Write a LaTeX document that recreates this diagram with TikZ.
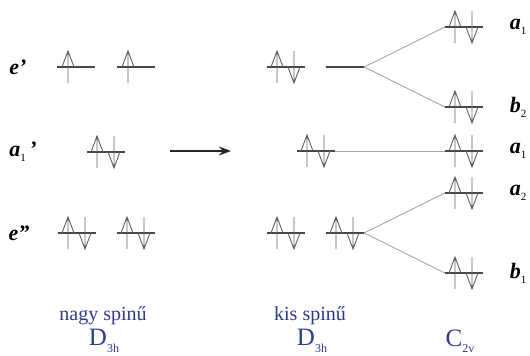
\documentclass[tikz,border=0pt]{standalone}
\usepackage{fontspec}
\setmainfont{Liberation Serif}
\usetikzlibrary{arrows.meta}
\definecolor{labblue}{RGB}{48,58,135}
% small lowered index for symmetry labels
\newcommand\lsub[1]{\raisebox{-0.5ex}{\fontsize{11}{11}\selectfont\upshape\mdseries #1}}
% small lowered index for point groups
\newcommand\gsub[1]{\raisebox{-0.55ex}{\fontsize{12}{12}\selectfont #1}}
% an orbital level: a named node with its horizontal line
\newcommand\lev[3]{\node[lvl] (#1) at (#2,#3) {};\draw[levline] (#1.west) -- (#1.east);}
% a filled level: spin-up and spin-down electron
\newcommand\pairon[1]{\pic at (#1) {upel=-9};\pic at (#1) {dnel=8};}
\begin{document}
\begin{tikzpicture}[x=1pt,y=-1pt,
  lvl/.style={inner sep=0pt, minimum width=38pt, minimum height=0pt},
  levline/.style={draw=black!72, line width=1.1pt},
  elec/.style={draw=black!62, line width=0.9pt},
  conn/.style={draw=black!35, line width=0.9pt},
  sym/.style={font=\fontsize{22}{22}\selectfont\bfseries\itshape, inner sep=0pt},
  captext/.style={text=labblue, font=\fontsize{20}{23}\selectfont, inner sep=0pt},
  grouptext/.style={text=labblue, font=\fontsize{25}{25}\selectfont, inner sep=0pt},
  upel/.pic={\draw[elec] (#1,16)--(#1,-16) (#1-6,0)--(#1,-16)--(#1+6,0);},
  dnel/.pic={\draw[elec] (#1,-16)--(#1,16) (#1-6,0)--(#1,16)--(#1+6,0);},
]
\useasboundingbox (0,0) rectangle (530,356);

% high-spin D3h column
\lev{hA}{76}{67}  \pic at (hA) {upel=-8};
\lev{hB}{136}{67} \pic at (hB) {upel=-8};
\lev{hC}{106}{152} \pairon{hC}
\lev{hD}{77}{233} \pairon{hD}
\lev{hE}{136}{233} \pairon{hE}

\node[sym] (se1) at (18,67) {e’};
\node[sym] (sa1) at (23,152) {a\lsub{1}\,’};
\node[sym] (se2) at (19,233) {e”};

% transition arrow
\coordinate (arrS) at (170,151);
\coordinate (arrT) at (231,151);
\draw[black!85, line width=1.6pt, -{Stealth[length=12pt,width=9pt]}] (arrS) -- (arrT);

% low-spin D3h column
\lev{lA}{286}{67} \pairon{lA}
\lev{lB}{345}{67}
\lev{lC}{316}{151} \pairon{lC}
\lev{lD}{286}{233} \pairon{lD}
\lev{lE}{345}{233} \pairon{lE}

% C2v column
\lev{cA}{464}{27}  \pairon{cA}
\lev{cB}{464}{107} \pairon{cB}
\lev{cC}{464}{151} \pairon{cC}
\lev{cD}{464}{193} \pairon{cD}
\lev{cE}{464}{273} \pairon{cE}

% correlation lines
\draw[conn] (lB.east) -- (cA.west);
\draw[conn] (lB.east) -- (cB.west);
\draw[conn] (lC.east) -- (cC.west);
\draw[conn] (lE.east) -- (cD.west);
\draw[conn] (lE.east) -- (cE.west);

\node[sym] (ra1) at (518,27) {a\lsub{1}};
\node[sym] (rb2) at (518,107) {b\lsub{2}};
\node[sym] (ra3) at (518,151) {a\lsub{1}};
\node[sym] (ra2) at (518,193) {a\lsub{2}};
\node[sym] (rb1) at (518,273) {b\lsub{1}};

% column captions
\node[captext] (cap1) at (103,316) {nagy spinű};
\node[grouptext] (cap1s) at (104,341) {D\gsub{3h}};
\node[captext] (cap2) at (310,316) {kis spinű};
\node[grouptext] (cap2s) at (312,341) {D\gsub{3h}};
\node[grouptext] (cap3s) at (460,341) {C\gsub{2v}};
\end{tikzpicture}
\end{document}
